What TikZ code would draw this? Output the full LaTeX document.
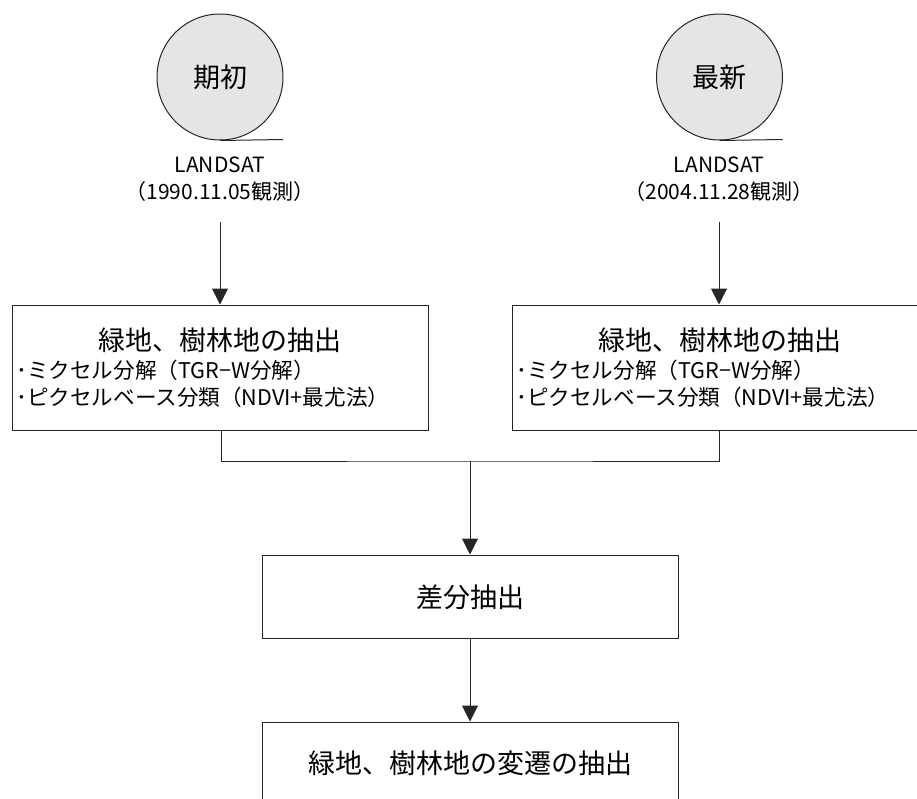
\documentclass[tikz,border=0pt]{standalone}
\usepackage{fontspec}
\setmainfont{Noto Sans CJK JP}
\usetikzlibrary{arrows.meta}
\begin{document}
\begin{tikzpicture}[x=1pt,y=-1pt,
  line/.style={draw=black!85,line width=1pt},
  arr/.style={line,-{Triangle[length=16pt,width=16pt]}},
  disk/.style={circle,line,fill=black!10,minimum size=126pt,inner sep=0pt,font=\fontsize{27}{32}\selectfont},
  procbox/.style={rectangle,line,fill=white,minimum width=416pt,inner sep=0pt},
  big/.style={inner sep=0pt,font=\fontsize{27}{32}\selectfont},
  small/.style={inner sep=0pt,font=\fontsize{21}{27}\selectfont,align=center},
  bullets/.style={inner sep=0pt,font=\fontsize{21.6}{27}\selectfont,align=left,anchor=west}]
\useasboundingbox (0,0) rectangle (917,798);
% sources
\node[disk] (c1) at (220,77) {期初};
\node[disk] (c2) at (719.5,77) {最新};
\coordinate (c1e) at (283,139.5);
\coordinate (c2e) at (782.5,139.5);
\draw[line] (c1.south) -- (c1e);
\draw[line] (c2.south) -- (c2e);
\node[small] (t1) at (220,179.5) {LANDSAT\\（1990.11.05観測）};
\node[small] (t2) at (719,179.5) {LANDSAT\\（2004.11.28観測）};
% process boxes
\node[procbox,minimum height=125pt] (b1) at (220,367.5) {};
\node[procbox,minimum height=125pt] (b2) at (720,367.5) {};
\node[big] (b1t) at (220,340) {緑地、樹林地の抽出};
\node[big] (b2t) at (720,340) {緑地、樹林地の抽出};
\node[bullets] (b1b) at (16,383.5) {･ミクセル分解（TGR−W分解）\\･ピクセルベース分類（NDVI+最尤法）};
\node[bullets] (b2b) at (516,383.5) {･ミクセル分解（TGR−W分解）\\･ピクセルベース分類（NDVI+最尤法）};
\node[procbox,minimum height=83pt] (d) at (470,596.5) {};
\node[big] (dt) at (470,597) {差分抽出};
\node[procbox,minimum height=83pt] (e) at (470,763.5) {};
\node[big] (et) at (470,763) {緑地、樹林地の変遷の抽出};
% connectors
\coordinate (a1) at (220,222);
\coordinate (a2) at (719,222);
\draw[arr] (a1) -- (b1.north);
\draw[arr] (a2) -- (b2.north-|a2);
\coordinate (j) at (470,461);
\draw[line] (b1.south-|221,0) |- (j) -| (b2.south-|719,0);
\draw[arr] (j) -- (d.north);
\draw[arr] (d.south) -- (e.north);
\end{tikzpicture}
\end{document}
